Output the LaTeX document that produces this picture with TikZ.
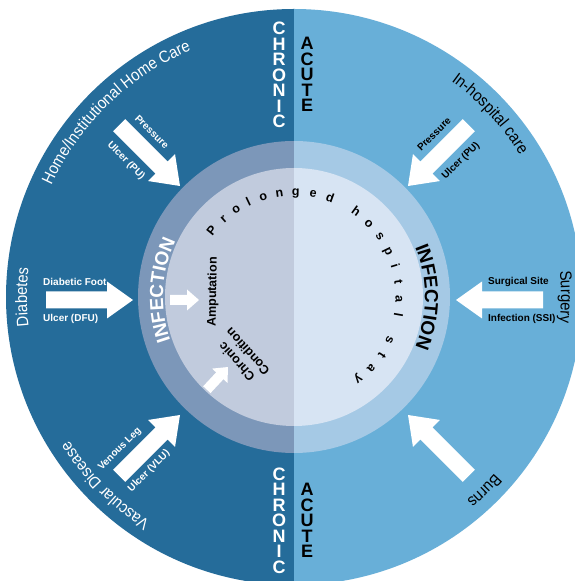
\documentclass[tikz,border=0pt]{standalone}
\usepackage{fontspec}
\setmainfont{Liberation Sans}
\newfontfamily\condfont[FakeStretch=0.9]{Liberation Sans}
\usetikzlibrary{decorations.text}
\definecolor{darkO}{HTML}{256C9A}
\definecolor{lightO}{HTML}{68AFD8}
\definecolor{darkM}{HTML}{7C97B9}
\definecolor{lightM}{HTML}{A5C9E5}
\definecolor{darkI}{HTML}{C1CBDD}
\definecolor{lightI}{HTML}{D7E4F3}
% tip x, tip y, angle, length, shaft width, head width, head length
\newcommand\blockarrow[7]{%
  \begin{scope}[shift={(#1,#2)},rotate=#3]
    \fill[white] (0,0) -- (-#7,#6/2) -- (-#7,#5/2) -- (-#4,#5/2) -- (-#4,-#5/2) -- (-#7,-#5/2) -- (-#7,-#6/2) -- cycle;
  \end{scope}}
% colour, radius, start angle, end angle, font, text
\newcommand\curvetext[6]{%
  \path[decorate,decoration={text along path,text={|#5\color{#1}|#6},text align=center}]
    (C) ++(#3:#2pt) arc[start angle=#3,end angle=#4,radius=#2pt];}
\newcommand\outerfont{\condfont\fontsize{16.5}{19}\selectfont}
\newcommand\ringfont{\bfseries\fontsize{19}{22}\selectfont}
\tikzset{
  stackw/.style={align=center,inner sep=0pt,font=\bfseries\fontsize{18}{15.5}\selectfont},
  lbl/.style={inner sep=0pt,font=\bfseries\fontsize{10}{12}\selectfont},
  inlbl/.style={inner sep=0pt,align=center,font=\bfseries\fontsize{12.5}{15}\selectfont},
  plch/.style={inner sep=0pt,anchor=base,font=\bfseries\fontsize{12.5}{15}\selectfont}
}
\begin{document}
\begin{tikzpicture}[x=1pt,y=1pt]
\useasboundingbox (0,0) rectangle (575,581);
\clip (0,0) rectangle (575,581);
\fill[white] (0,0) rectangle (575,581);
\coordinate (C) at (294,284);
% discs
\fill[darkO] (C) ++(90:288pt) arc[start angle=90,end angle=270,radius=288pt] -- cycle;
\fill[lightO] (C) ++(90:288pt) arc[start angle=90,end angle=-90,radius=288pt] -- cycle;
\fill[darkM] (C) ++(90:156pt) arc[start angle=90,end angle=270,radius=156pt] -- cycle;
\fill[lightM] (C) ++(90:156pt) arc[start angle=90,end angle=-90,radius=156pt] -- cycle;
\fill[darkI] (C) ++(90:129pt) arc[start angle=90,end angle=270,radius=129pt] -- cycle;
\fill[lightI] (C) ++(90:129pt) arc[start angle=90,end angle=-90,radius=129pt] -- cycle;

% CHRONIC / ACUTE
\node[stackw,text=white] (chrT) at (279,506) {C\\H\\R\\O\\N\\I\\C};
\node[stackw,text=black] (acuT) at (307,506.5) {A\\C\\U\\T\\E};
\node[stackw,text=white] (chrB) at (279,60.5) {C\\H\\R\\O\\N\\I\\C};
\node[stackw,text=black] (acuB) at (307,60.5) {A\\C\\U\\T\\E};

% outer curved labels
\curvetext{white}{267}{200}{68}{\outerfont}{Home/Institutional Home Care}
\curvetext{black}{267}{100}{-14}{\outerfont}{In-hospital care}
\curvetext{white}{267}{230}{130}{\outerfont}{Diabetes}
\curvetext{black}{267}{50}{-50}{\outerfont}{Surgery}
\curvetext{white}{267}{285}{165}{\outerfont}{Vascular Disease}
\curvetext{black}{267}{0}{-91}{\outerfont}{Burns}

% INFECTION ring labels
\curvetext{white}{131}{230}{124}{\ringfont}{INFECTION}
\curvetext{black}{131}{53}{-53}{\ringfont}{INFECTION}

% big arrows
\blockarrow{180}{395}{-45}{86}{17}{38}{26}
\blockarrow{408}{395}{-135}{86}{17}{38}{26}
\blockarrow{133}{281}{0}{87}{17}{37}{26}
\blockarrow{456}{281}{180}{87}{17}{37}{26}
\blockarrow{180}{166}{45}{86}{17}{38}{26}
\blockarrow{408}{166}{135}{86}{17}{38}{26}
% small arrows
\blockarrow{199}{281}{0}{29}{10}{21}{12}
\blockarrow{228}{214}{47}{31}{10}{21}{12}

% arrow labels
\node[lbl,text=white,rotate=-45] (ulP) at (152,449) {Pressure};
\node[lbl,text=white,rotate=-45] (ulU) at (126,420) {Ulcer (PU)};
\node[lbl,text=black,rotate=45] (urP) at (434,447) {Pressure};
\node[lbl,text=black,rotate=45] (urU) at (461,420) {Ulcer (PU)};
\node[lbl,text=white,anchor=west] (dfA) at (43,299) {Diabetic Foot};
\node[lbl,text=white,anchor=west] (dfB) at (43,262) {Ulcer (DFU)};
\node[lbl,text=black,anchor=west] (ssA) at (488,299) {Surgical Site};
\node[lbl,text=black,anchor=west] (ssB) at (488,262) {Infection (SSI)};
\node[lbl,text=white,rotate=45] (vlA) at (120,132) {Venous Leg};
\node[lbl,text=white,rotate=45] (vlB) at (149,110) {Ulcer (VLU)};

% inner labels
\node[inlbl,rotate=89] (amp) at (213,289) {Amputation};
\node[inlbl,rotate=132] (chc) at (242,224) {Chronic\\Condition};

% Prolonged hospital stay
\foreach \ch/\ang [count=\i] in {P/141,r/132,o/123.5,l/115.5,o/107,n/98,g/89,e/79.5,d/70,h/54,o/44.5,s/35,p/26,i/17,t/8,a/-1,l/-10,s/-24.5,t/-33.5,a/-42.5,y/-52}
  \node[plch,rotate=\ang-90] (pl\i) at ([shift={(\ang:101.5pt)}]C) {\ch};
\end{tikzpicture}
\end{document}
